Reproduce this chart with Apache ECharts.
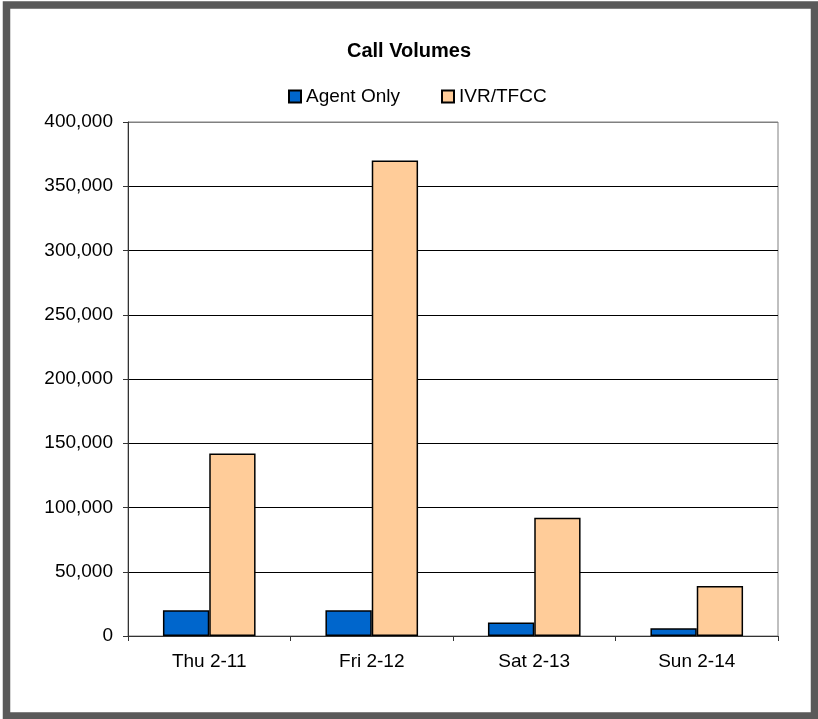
<!DOCTYPE html>
<html>
<head>
<meta charset="utf-8">
<script src="https://cdn.jsdelivr.net/npm/echarts@6/dist/echarts.min.js"></script>
<style>
html,body{margin:0;padding:0;background:#fff;}
#chart{width:818px;height:719px;}
</style>
</head>
<body>
<div id="chart"></div>
<script>
var categories = ['Thu 2-11', 'Fri 2-12', 'Sat 2-13', 'Sun 2-14'];
var agentOnly = [20000, 20000, 10500, 6000];
var ivrTfcc = [142000, 370000, 92000, 39000];
var seriesNames = ['Agent Only', 'IVR/TFCC'];

var font = 'Liberation Sans, Arial, sans-serif';
var gridColors = ['#000','#000','#000','#000','#000','#000','#000','#000','#808080'];

var chart = echarts.init(document.getElementById('chart'));
chart.setOption({
  backgroundColor: '#fff',
  animation: false,
  graphic: [{
    type: 'rect',
    z: -10,
    shape: {x: 6.5, y: 5, width: 808, height: 711},
    style: {fill: 'none', stroke: '#5a5a5a', lineWidth: 7.5}
  }],
  title: {
    text: 'Call Volumes',
    left: 'center',
    top: 36,
    textStyle: {fontFamily: font, fontSize: 20, fontWeight: 'bold', color: '#000'}
  },
  legend: {
    data: seriesNames,
    left: 283,
    top: 82,
    itemWidth: 12,
    itemHeight: 12,
    itemGap: 41,
    icon: 'rect',
    textStyle: {fontFamily: font, fontSize: 19, color: '#000'}
  },
  grid: {
    left: 128, right: 40, top: 122, bottom: 83,
    show: true, borderColor: '#808080', borderWidth: 1, backgroundColor: 'transparent'
  },
  xAxis: {
    type: 'category',
    data: categories,
    axisLine: {lineStyle: {color: '#333', width: 1}},
    axisTick: {show: true, length: 5, lineStyle: {color: '#333'}},
    axisLabel: {fontFamily: font, fontSize: 19, color: '#000', margin: 16}
  },
  yAxis: {
    type: 'value',
    min: 0,
    max: 400000,
    interval: 50000,
    axisLine: {show: true, lineStyle: {color: '#333', width: 1}},
    axisTick: {show: true, length: 5, lineStyle: {color: '#333'}},
    axisLabel: {
      fontFamily: font, fontSize: 19, color: '#000', margin: 15,
      formatter: function (v) { return v.toLocaleString('en-US'); }
    },
    splitLine: {show: true, lineStyle: {color: gridColors, width: 1}}
  },
  series: [{
    name: seriesNames[0],
    type: 'bar',
    data: agentOnly,
    barGap: '0%',
    barCategoryGap: '43%',
    itemStyle: {color: '#0066CC', borderColor: '#000', borderWidth: 1.5}
  }, {
    name: seriesNames[1],
    type: 'bar',
    data: ivrTfcc,
    barGap: '0%',
    barCategoryGap: '43%',
    itemStyle: {color: '#FFCC99', borderColor: '#000', borderWidth: 1.5}
  }]
});
</script>
</body>
</html>
